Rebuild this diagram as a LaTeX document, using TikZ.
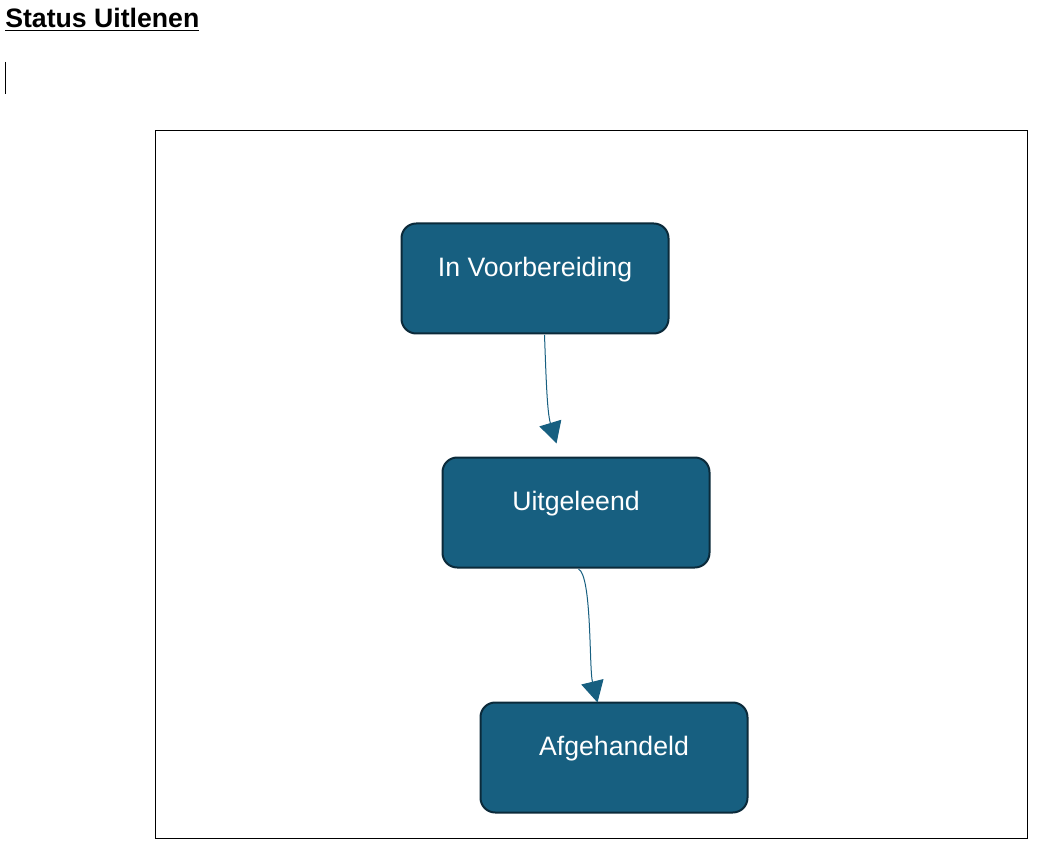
\documentclass[tikz,border=0pt]{standalone}
\usepackage{fontspec}
\setmainfont{Liberation Sans}
\usetikzlibrary{arrows.meta,calc}
\definecolor{boxfill}{HTML}{175F80}
\definecolor{boxborder}{HTML}{0B2A3A}
\tikzset{
  statebox/.style={draw=boxborder, line width=1.5pt, fill=boxfill, rounded corners=11pt,
    minimum width=200.25pt, inner xsep=0pt, inner ysep=0pt, text=white,
    font=\fontsize{20}{24}\selectfont, anchor=north west,
    text height=39.5pt, text depth=43pt},
  flow/.style={draw=boxfill, line width=0.75pt, -{Triangle[length=16pt,width=17pt]}, fill=none}
}
\begin{document}
\begin{tikzpicture}[x=0.75pt,y=-0.75pt]
\useasboundingbox[fill=white] (0,0) rectangle (1063,855);
\node[anchor=base west, inner sep=0pt, font=\bfseries\fontsize{20}{24}\selectfont] (title) at (5,28) {\underline{Status Uitlenen}};
\draw[line width=0.75pt] (5,62) -- (5,94);
\draw[line width=0.75pt] (155,131) rectangle (1027,838);
\node[statebox] (a) at (400.5,222.5) {In Voorbereiding};
\node[statebox] (b) at (441.5,456.5) {Uitgeleend};
\node[statebox] (c) at (479.5,701.5) {Afgehandeld};
\draw[flow] ($(a.south)+(9.5,0.5)$) .. controls (546,375) and (547,412) .. ($(b.north)+(-19.5,-13)$);
\draw[flow] ($(b.south)+(2.5,0.5)$) .. controls (592,576) and (589,668) .. ($(c.north)+(-16.5,1)$);
\end{tikzpicture}
\end{document}
